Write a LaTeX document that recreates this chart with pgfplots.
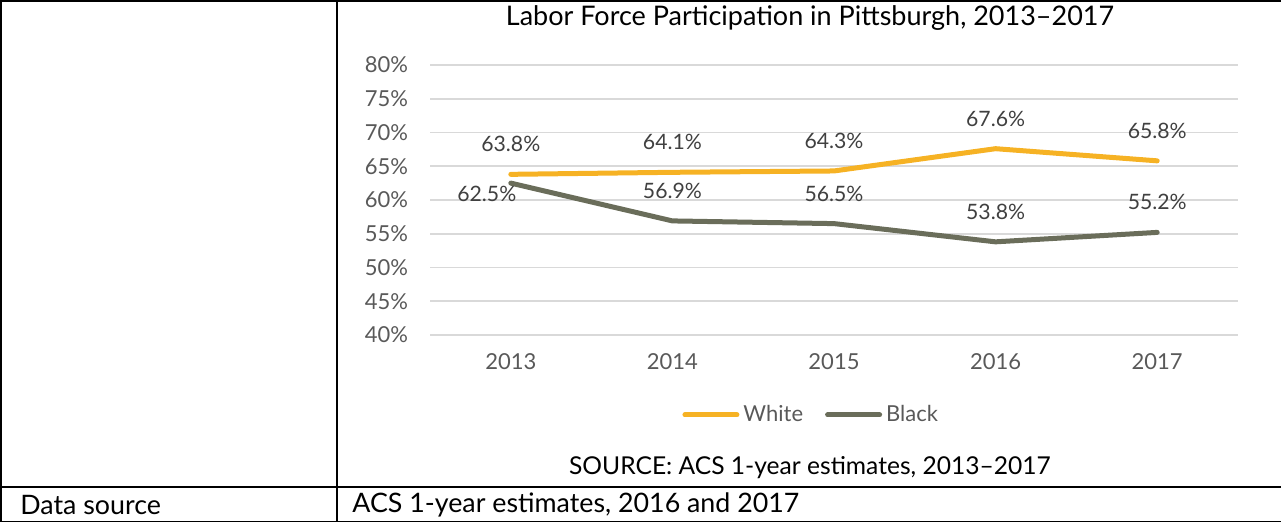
\documentclass[border=0pt]{standalone}
\usepackage{fontspec}
\setmainfont{Lato}
\usepackage{pgfplots}
\pgfplotsset{compat=1.18}
\definecolor{cWhite}{HTML}{F6B224}
\definecolor{cBlack}{HTML}{6A6D5A}
\definecolor{ticktxt}{HTML}{595959}
\definecolor{labtxt}{HTML}{404040}
\definecolor{gridc}{HTML}{D9D9D9}
\newcommand\ff{\fontsize{11}{13}\selectfont}
\newcommand\fl{\fontsize{10.6}{13}\selectfont}
\begin{document}
\begin{tikzpicture}
\useasboundingbox (0,0) rectangle (640.5pt,261pt);
\begin{axis}[
  at={(215pt,93.5pt)}, anchor=south west,
  scale only axis, width=404pt, height=135pt,
  xmin=2012.5, xmax=2017.5, ymin=40, ymax=80,
  xtick={2013,2014,2015,2016,2017},
  xticklabels={2013,2014,2015,2016,2017},
  ytick={40,45,...,80},
  yticklabel={\pgfmathprintnumber{\tick}\%},
  /pgf/number format/assume math mode=true,
  tick style={draw=none},
  axis line style={draw=none},
  ymajorgrids, grid style={gridc, line width=0.9pt},
  ticklabel style={font=\ff, text=ticktxt},
  yticklabel style={xshift=-7.5pt},
  xticklabel style={yshift=-6pt},
  clip=false,
  legend columns=2,
  legend style={draw=none, fill=none, at={(0.473,-0.296)}, anchor=center,
    font=\ff, text=ticktxt, inner sep=0pt,
    /tikz/every even column/.append style={column sep=9pt}},
  legend image code/.code={\draw[#1, line cap=round] (0pt,0pt) -- (26pt,0pt);},
  nodes near coords={\pgfmathprintnumber[fixed,fixed zerofill,precision=1]{\pgfplotspointmeta}\%},
  nodes near coords style={font=\fl, text=labtxt, anchor=center},
]
\addplot[cWhite, line width=2.5pt, line cap=round, line join=round,
  every node near coord/.append style={yshift=15pt}]
  coordinates {(2013,63.8) (2014,64.1) (2015,64.3) (2016,67.6) (2017,65.8)};
\addlegendentry{White}
\addplot[cBlack, line width=2.5pt, line cap=round, line join=round,
  coordinate style/.condition={x<2013.5}{xshift=-12pt, yshift=-5.5pt},
  coordinate style/.condition={x>2013.5}{yshift=15pt}]
  coordinates {(2013,62.5) (2014,56.9) (2015,56.5) (2016,53.8) (2017,55.2)};
\addlegendentry{Black}
\end{axis}
\node[font=\fontsize{13.5}{15}\selectfont, text=black] at (405pt,252pt) {Labor Force Participation in Pittsburgh, 2013–2017};
\node[font=\fontsize{12.3}{14}\selectfont] at (405pt,27pt) {SOURCE: ACS 1-year estimates, 2013–2017};
\node[font=\fontsize{13.4}{15}\selectfont, anchor=west, inner sep=0pt] at (10pt,8.5pt) {Data source};
\node[font=\fontsize{13.4}{15}\selectfont, anchor=west, inner sep=0pt] at (176pt,8.5pt) {ACS 1-year estimates, 2016 and 2017};
\draw[line width=1pt] (0.5pt,0pt) -- (0.5pt,261pt);
\draw[line width=1pt] (0pt,260.5pt) -- (640.5pt,260.5pt);
\draw[line width=1pt] (0pt,17.5pt) -- (640.5pt,17.5pt);
\draw[line width=0.6pt] (0pt,0.3pt) -- (640.5pt,0.3pt);
\draw[line width=0.8pt] (168.5pt,0pt) -- (168.5pt,261pt);
\end{tikzpicture}
\end{document}
